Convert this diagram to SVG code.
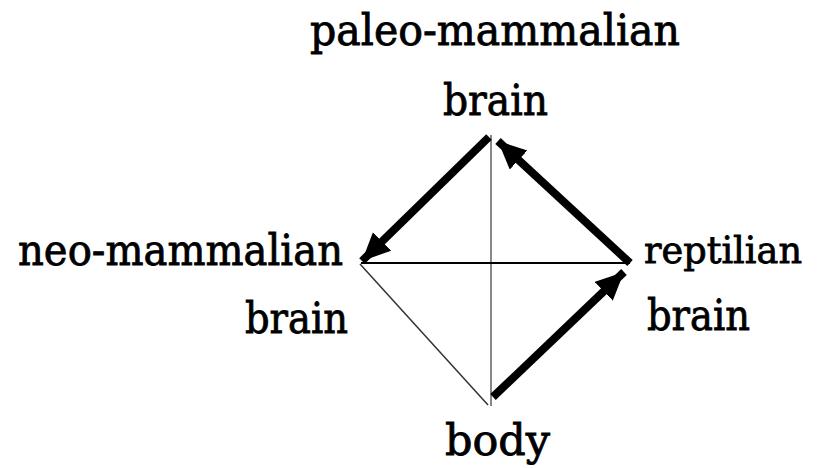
<svg xmlns="http://www.w3.org/2000/svg" width="824" height="468" viewBox="0 0 824 468">
<defs>
<style>
.lbl{font-family:"DejaVu Serif","Liberation Serif",serif;font-size:42px;fill:#000;stroke:#000;stroke-width:0.8;}
.thick{stroke:#000;stroke-width:8;fill:none;marker-end:url(#ah);}
</style>
<marker id="ah" markerUnits="userSpaceOnUse" markerWidth="32" markerHeight="28" refX="28" refY="13" orient="auto">
<path d="M0,0 L28,13 L0,26 Z" fill="#000"/>
</marker>
</defs>
<rect width="824" height="468" fill="#fff"/>
<g id="connectors">
<line x1="491" y1="135" x2="491" y2="406" stroke="#888" stroke-width="2"/>
<line x1="361" y1="263" x2="630" y2="263" stroke="#000" stroke-width="2"/>
<line x1="360" y1="264" x2="488" y2="405" stroke="#333" stroke-width="1.5"/>
<line class="thick" x1="489" y1="137" x2="362" y2="261"/>
<line class="thick" x1="630" y1="263" x2="498" y2="141"/>
<line class="thick" x1="493" y1="397" x2="624" y2="272"/>
</g>
<g id="paleo">
<text class="lbl" x="310" y="45" textLength="370" lengthAdjust="spacingAndGlyphs">paleo-mammalian</text>
<text class="lbl" x="443" y="115" textLength="105" lengthAdjust="spacingAndGlyphs">brain</text>
</g>
<g id="neo">
<text class="lbl" x="18" y="265" textLength="325" lengthAdjust="spacingAndGlyphs">neo-mammalian</text>
<text class="lbl" x="245" y="333" textLength="103" lengthAdjust="spacingAndGlyphs">brain</text>
</g>
<g id="reptilian">
<text class="lbl" x="644" y="263" style="font-size:38px" textLength="158" lengthAdjust="spacingAndGlyphs">reptilian</text>
<text class="lbl" x="647" y="330" textLength="103" lengthAdjust="spacingAndGlyphs">brain</text>
</g>
<g id="body">
<text class="lbl" x="445" y="455" textLength="105" lengthAdjust="spacingAndGlyphs">body</text>
</g>
</svg>
